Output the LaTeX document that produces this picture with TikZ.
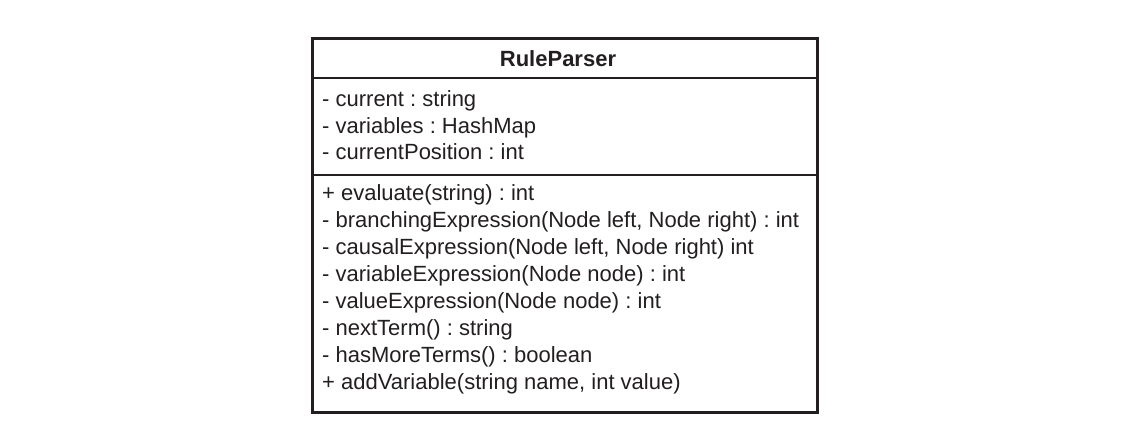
\documentclass[tikz,border=0pt]{standalone}
\usepackage{fontspec}
\setmainfont{Liberation Sans}
\frenchspacing
\definecolor{ink}{HTML}{231F20}
\begin{document}
\begin{tikzpicture}[x=1pt,y=-1pt,
  member/.style={anchor=base west,inner sep=0pt,text=ink,font=\fontsize{22}{27}\selectfont},
  title/.style={anchor=base,inner sep=0pt,text=ink,font=\fontsize{22}{27}\selectfont\bfseries},
  frame/.style={draw=ink,line width=3pt},
  sep/.style={draw=ink,line width=1.4pt}]
\useasboundingbox (0,0) rectangle (1138,440);
\fill[white] (0,0) rectangle (1138,440);
\coordinate (tl) at (312,38);
\coordinate (br) at (817,412);
\draw[frame] (tl) rectangle (br);
\coordinate (s1l) at (312,78); \coordinate (s1r) at (817,78);
\coordinate (s2l) at (312,175); \coordinate (s2r) at (817,175);
\draw[sep] (s1l) -- (s1r);
\draw[sep] (s2l) -- (s2r);
\node[title] (t) at (558,66.5) {RuleParser};
\node[member] (a1) at (322,106.5) {- current : string};
\node[member] (a2) at (322,133) {- variables : HashMap};
\node[member] (a3) at (322,159.5) {- currentPosition : int};
\node[member] (m1) at (322,200.5) {+ evaluate(string) : int};
\node[member] (m2) at (322,227.5) {- branchingExpression(Node left, Node right) : int};
\node[member] (m3) at (322,254.5) {- causalExpression(Node left, Node right) int};
\node[member] (m4) at (322,281.5) {- variableExpression(Node node) : int};
\node[member] (m5) at (322,308.5) {- valueExpression(Node node) : int};
\node[member] (m6) at (322,335.5) {- nextTerm() : string};
\node[member] (m7) at (322,362.5) {- hasMoreTerms() : boolean};
\node[member] (m8) at (322,389.5) {+ addVariable(string name, int value)};
\end{tikzpicture}
\end{document}
